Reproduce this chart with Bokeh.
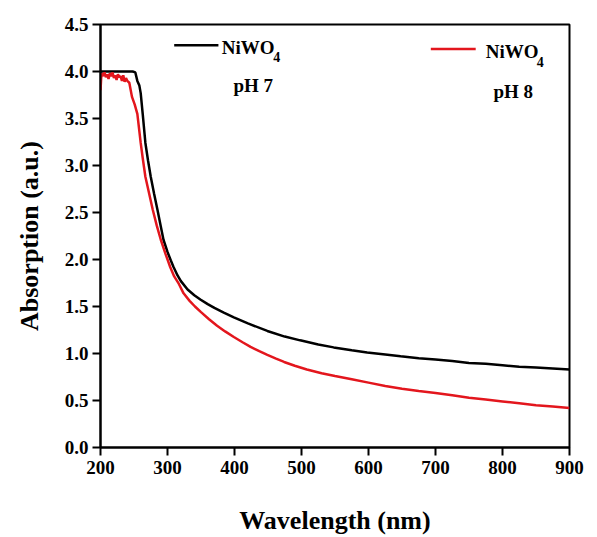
from bokeh.plotting import figure
from bokeh.models import Range1d, Label, FixedTicker, CustomJSTickFormatter
from bokeh.embed import file_html
from bokeh.resources import INLINE

# Wavelength (nm) and absorption (a.u.) for NiWO4 prepared at pH 7
wl_ph7 = [200, 210, 220, 230, 240, 248, 252, 255, 258, 260, 263, 267, 271, 275, 280,
          285, 290, 294, 300, 305, 309, 315, 320, 330, 340, 349, 360, 370, 384, 399,
          420, 449, 475, 498, 525, 548, 575, 598, 625, 648, 675, 700, 725, 750, 775,
          800, 825, 850, 875, 900]
abs_ph7 = [4.00, 4.00, 4.00, 4.00, 4.00, 4.00, 3.99, 3.90, 3.85, 3.77, 3.55, 3.24, 3.05, 2.88, 2.70,
           2.53, 2.35, 2.21, 2.08, 1.99, 1.92, 1.83, 1.77, 1.68, 1.62, 1.575, 1.525, 1.485, 1.435, 1.385,
           1.32, 1.24, 1.18, 1.14, 1.095, 1.065, 1.035, 1.01, 0.99, 0.97, 0.95, 0.935, 0.92, 0.90, 0.89,
           0.875, 0.86, 0.85, 0.84, 0.83]

# Wavelength (nm) and absorption (a.u.) for NiWO4 prepared at pH 8
wl_ph8 = [200, 201, 202, 204, 206, 208, 210, 212, 214, 216, 218, 220, 222, 224, 226, 228,
          230, 232, 234, 236, 238, 240, 243, 247, 251, 255, 260, 263, 267, 272, 278, 284,
          290, 297, 304, 310, 317, 324, 333, 341, 350, 362, 374, 386, 399, 412, 424, 437,
          449, 462, 474, 490, 508, 530, 550, 575, 600, 625, 650, 675, 700, 725, 750, 775,
          800, 825, 850, 875, 900]
abs_ph8 = [3.80, 3.93, 3.98, 3.95, 3.99, 3.94, 3.97, 3.92, 3.98, 3.95, 3.99, 3.93, 3.96, 3.91, 3.97, 3.94,
           3.95, 3.90, 3.96, 3.89, 3.93, 3.90, 3.88, 3.73, 3.65, 3.55, 3.24, 3.08, 2.88, 2.72, 2.53, 2.36,
           2.21, 2.06, 1.92, 1.82, 1.74, 1.64, 1.56, 1.50, 1.44, 1.365, 1.295, 1.235, 1.175, 1.12, 1.07, 1.025,
           0.985, 0.945, 0.91, 0.87, 0.83, 0.79, 0.76, 0.725, 0.69, 0.655, 0.625, 0.60, 0.58, 0.555, 0.53, 0.51,
           0.49, 0.47, 0.45, 0.435, 0.42]

x_ticks = [200, 300, 400, 500, 600, 700, 800, 900]
y_ticks = [0.0, 0.5, 1.0, 1.5, 2.0, 2.5, 3.0, 3.5, 4.0, 4.5]
series_names = ["NiWO", "NiWO"]
series_notes = ["pH 7", "pH 8"]
x_title = "Wavelength (nm)"
y_title = "Absorption (a.u.)"

BLACK = "#000000"
RED = "#e3161d"
FONT = "Liberation Serif"

p = figure(width=597, height=537, output_backend="svg", toolbar_location=None,
           x_range=Range1d(200, 900), y_range=Range1d(0, 4.5),
           min_border_left=100, min_border_right=28, min_border_top=24, min_border_bottom=89)

p.line(wl_ph7, abs_ph7, line_color=BLACK, line_width=2.5)
p.line(wl_ph8, abs_ph8, line_color=RED, line_width=2.5)

p.xgrid.visible = False
p.ygrid.visible = False
p.outline_line_color = "black"
p.outline_line_width = 2
p.background_fill_color = "white"
p.border_fill_color = "white"

for ax in (p.xaxis[0], p.yaxis[0]):
    ax.axis_line_width = 2
    ax.major_tick_line_width = 2
    ax.major_tick_line_color = "black"
    ax.major_tick_out = 8
    ax.major_tick_in = 0
    ax.minor_tick_line_color = None
    ax.major_label_text_font = FONT
    ax.major_label_text_font_style = "bold"
    ax.major_label_text_font_size = "19px"
    ax.major_label_text_color = "black"
    ax.axis_label_text_font = FONT
    ax.axis_label_text_font_style = "bold"
    ax.axis_label_text_font_size = "26px"
    ax.axis_label_text_color = "black"

p.xaxis[0].ticker = FixedTicker(ticks=x_ticks)
p.yaxis[0].ticker = FixedTicker(ticks=y_ticks)
p.yaxis[0].formatter = CustomJSTickFormatter(code="return tick.toFixed(1);")
p.xaxis[0].axis_label = x_title
p.yaxis[0].axis_label = y_title
p.xaxis[0].major_label_standoff = 5
p.yaxis[0].major_label_standoff = 4
p.xaxis[0].axis_label_standoff = 29
p.yaxis[0].axis_label_standoff = 18

# legend (hand-drawn, as in the original)
p.line([310, 376], [4.28, 4.28], line_color=BLACK, line_width=2.5)
p.line([693, 760], [4.24, 4.24], line_color=RED, line_width=2.5)

def add_text(x, y, txt, size, align="left", baseline="middle"):
    p.add_layout(Label(x=x, y=y, text=txt, text_font=FONT, text_font_style="bold",
                       text_font_size=size, text_align=align, text_baseline=baseline,
                       text_color="black"))

add_text(381, 4.26, series_names[0], "19px")
add_text(458, 4.15, "4", "14px")
add_text(428, 3.85, series_notes[0], "19px", align="center")
add_text(775, 4.21, series_names[1], "19px")
add_text(851, 4.10, "4", "14px")
add_text(816, 3.79, series_notes[1], "19px", align="center")

open("out.html", "w").write(file_html(p, INLINE))
